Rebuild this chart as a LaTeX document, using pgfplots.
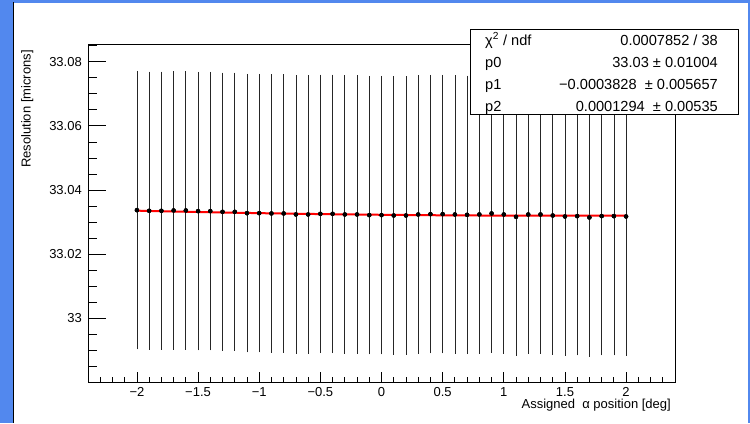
\documentclass[border=0pt]{standalone}
\usepackage{fontspec}
\setmainfont{Liberation Sans}
\usepackage{pgfplots}
\usepackage{pgfplotstable}
\pgfplotsset{compat=1.18}
\definecolor{rootblue}{RGB}{82,136,238}
\newcommand{\tickfont}{\fontsize{13bp}{15bp}\selectfont}
\newcommand{\statfont}{\fontsize{14.6bp}{17bp}\selectfont}

\pgfplotstableread{
x     y         e
-2.0  33.03375  0.0429
-1.9  33.03354  0.0429
-1.8  33.03354  0.0429
-1.7  33.03365  0.0429
-1.6  33.03365  0.0429
-1.5  33.03344  0.0429
-1.4  33.03344  0.0429
-1.3  33.03323  0.0429
-1.2  33.03323  0.0429
-1.1  33.03281  0.0429
-1.0  33.03281  0.0429
-0.9  33.03271  0.0429
-0.8  33.03271  0.0429
-0.7  33.03240  0.0429
-0.6  33.03240  0.0429
-0.5  33.03260  0.0429
-0.4  33.03260  0.0429
-0.3  33.03240  0.0429
-0.2  33.03240  0.0429
-0.1  33.03219  0.0429
0.0   33.03219  0.0429
0.1   33.03208  0.0429
0.2   33.03208  0.0429
0.3   33.03240  0.0429
0.4   33.03250  0.0429
0.5   33.03250  0.0429
0.6   33.03240  0.0429
0.7   33.03229  0.0429
0.8   33.03240  0.0429
0.9   33.03271  0.0429
1.0   33.03240  0.0429
1.1   33.03167  0.0429
1.2   33.03240  0.0429
1.3   33.03240  0.0429
1.4   33.03208  0.0429
1.5   33.03177  0.0429
1.6   33.03188  0.0429
1.7   33.03146  0.0429
1.8   33.03188  0.0429
1.9   33.03188  0.0429
2.0   33.03177  0.0429
}\data

\begin{document}
\begin{tikzpicture}[x=1bp,y=1bp]
\useasboundingbox (0,0) rectangle (750,423);
\fill[rootblue] (0,0) rectangle (750,423);
\fill[white] (14,0) rectangle (748,420);
\draw[black, line width=1.2bp] (13.6,0) -- (13.6,420.5);
\begin{axis}[
  at={(88bp,41bp)}, anchor=south west,
  width=587bp, height=337bp, scale only axis,
  xmin=-2.4, xmax=2.4, ymin=32.9802, ymax=33.0852,
  xtick={-2,-1.5,-1,-0.5,0,0.5,1,1.5,2},
  xticklabels={−2,−1.5,−1,−0.5,0,0.5,1,1.5,2},
  ytick={33,33.02,33.04,33.06,33.08},
  yticklabels={33,33.02,33.04,33.06,33.08},
  scaled y ticks=false,
  minor xtick={-2.3,-2.2,-2.1,-1.9,-1.8,-1.7,-1.6,-1.4,-1.3,-1.2,-1.1,-0.9,-0.8,-0.7,-0.6,-0.4,-0.3,-0.2,-0.1,0.1,0.2,0.3,0.4,0.6,0.7,0.8,0.9,1.1,1.2,1.3,1.4,1.6,1.7,1.8,1.9,2.1,2.2,2.3},
  minor ytick={32.985,32.99,32.995,33.005,33.01,33.015,33.025,33.03,33.035,33.045,33.05,33.055,33.065,33.07,33.075,33.085},
  tick align=inside,
  xtick pos=left, ytick pos=left,
  major tick length=10bp, minor tick length=5bp,
  ytick style={/pgfplots/major tick length=18bp,/pgfplots/minor tick length=9bp},
  tick style={black, line width=0.8bp},
  axis line style={line width=1bp},
  ticklabel style={font=\tickfont},
  xticklabel style={anchor=north, inner sep=0pt, yshift=-5bp},
  yticklabel style={anchor=east, inner sep=0pt, xshift=-6bp},
]
\addplot[only marks, mark=none,
  error bars/.cd, y dir=both, y explicit,
  error bar style={black!85, line width=0.7bp},
  error mark=-, error mark options={black!85, mark size=1.5bp, line width=0.7bp}]
  table[x=x, y=y, y error=e] {\data};
\addplot[red, line width=2bp, smooth] coordinates {
  (-2,33.03358) (-1.5,33.03317) (-1,33.03281) (-0.5,33.03252) (0,33.0323)
  (0.5,33.03214) (1,33.03205) (1.5,33.03202) (2,33.03205)};
\addplot[only marks, mark=*, mark size=2bp, black] table[x=x, y=y] {\data};
\end{axis}
% stats box
\draw[fill=white, line width=1bp] (470,309) rectangle (738,393);
\node[anchor=base west, inner sep=0, font=\statfont] at (485,378) {χ\textsuperscript{2} / ndf};
\node[anchor=base east, inner sep=0, font=\statfont] at (718,378) {0.0007852 / 38};
\node[anchor=base west, inner sep=0, font=\statfont] at (485,356) {p0};
\node[anchor=base east, inner sep=0, font=\statfont] at (718,356) {33.03 ± 0.01004};
\node[anchor=base west, inner sep=0, font=\statfont] at (485,334) {p1};
\node[anchor=base east, inner sep=0, font=\statfont] at (718,334) {−0.0003828 \ ± 0.005657};
\node[anchor=base west, inner sep=0, font=\statfont] at (485,312) {p2};
\node[anchor=base east, inner sep=0, font=\statfont] at (718,312) {0.0001294 \ ± 0.00535};
% axis titles
\node[anchor=base east, inner sep=0, font=\tickfont] at (671,15) {Assigned\ \ α position [deg]};
\node[rotate=90, anchor=base east, inner sep=0, font=\tickfont] at (30.6,373) {Resolution [microns]};
\end{tikzpicture}
\end{document}
